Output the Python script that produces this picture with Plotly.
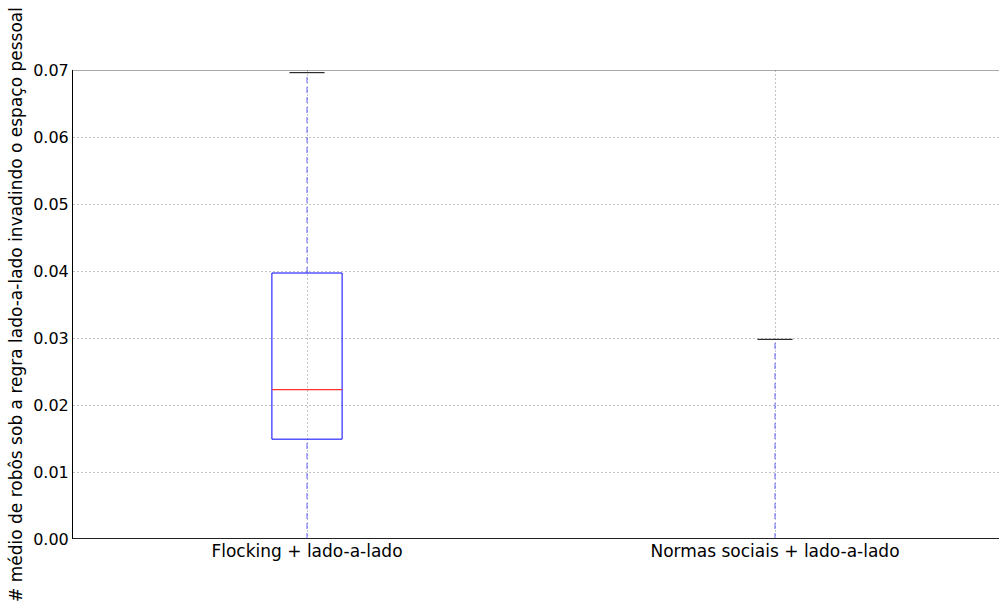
import plotly.graph_objects as go

categories = ["Flocking + lado-a-lado", "Normas sociais + lado-a-lado"]
positions = [1, 2]
whisker_low = [0.0, 0.0]
q1 = [0.0149, 0.0]
median = [0.0223, 0.0]
q3 = [0.0397, 0.0]
whisker_high = [0.0696, 0.0298]
y_ticks = [0.00, 0.01, 0.02, 0.03, 0.04, 0.05, 0.06, 0.07]
y_label = "# médio de robôs sob a regra lado-a-lado invadindo o espaço pessoal"

box_w = 0.15
cap_w = 0.075

fig = go.Figure()
font_family = "DejaVu Sans"

for p, lo, a, m, b, hi in zip(positions, whisker_low, q1, median, q3, whisker_high):
    # whiskers (dashed blue)
    fig.add_trace(go.Scatter(x=[p, p], y=[lo, a], mode="lines",
                             line=dict(color="#0000ff", width=1, dash="6px,4px"),
                             opacity=0.6, showlegend=False, hoverinfo="skip"))
    fig.add_trace(go.Scatter(x=[p, p], y=[b, hi], mode="lines",
                             line=dict(color="#0000ff", width=1, dash="6px,4px"),
                             opacity=0.6, showlegend=False, hoverinfo="skip"))
    # caps
    for v in (lo, hi):
        fig.add_trace(go.Scatter(x=[p - cap_w / 2, p + cap_w / 2], y=[v, v], mode="lines",
                                 line=dict(color="#000000", width=1),
                                 showlegend=False, hoverinfo="skip"))
    # box
    fig.add_trace(go.Scatter(x=[p - box_w / 2, p + box_w / 2, p + box_w / 2, p - box_w / 2, p - box_w / 2],
                             y=[a, a, b, b, a], mode="lines",
                             line=dict(color="#0000ff", width=1),
                             showlegend=False, hoverinfo="skip"))
    # median
    fig.add_trace(go.Scatter(x=[p - box_w / 2, p + box_w / 2], y=[m, m], mode="lines",
                             line=dict(color="#ff3030", width=1.2),
                             showlegend=False, hoverinfo="skip"))

fig.update_layout(
    width=999, height=601,
    margin=dict(l=73, r=0, t=70, b=62),
    paper_bgcolor="white", plot_bgcolor="white",
    font=dict(family=font_family, size=16, color="black"),
    xaxis=dict(range=[0.5, 2.4786], tickvals=positions, ticktext=categories,
               showgrid=True, gridcolor="#c4c4c4", griddash="2px,2px", gridwidth=1,
               zeroline=False, showline=False,
               ticks="", tickfont=dict(size=17)),
    yaxis=dict(range=[0, 0.07], tickvals=y_ticks, tickformat=".2f",
               showgrid=True, gridcolor="#c4c4c4", griddash="2px,2px", gridwidth=1,
               zeroline=False, showline=True, linecolor="black", linewidth=1,
               ticks="", tickfont=dict(size=16), layer="above traces",
               title=dict(text=y_label, font=dict(size=17), standoff=6)),
)
# bottom spine (covers anything drawn exactly at y=0, as in the original)
fig.add_shape(type="line", xref="paper", yref="y", x0=0, x1=1, y0=0, y1=0,
              line=dict(color="#222222", width=2), layer="above")
# top spine
fig.add_shape(type="line", xref="paper", yref="y", x0=0, x1=1, y0=0.07, y1=0.07,
              line=dict(color="#555555", width=1), layer="above")

fig.write_html("out.html")
